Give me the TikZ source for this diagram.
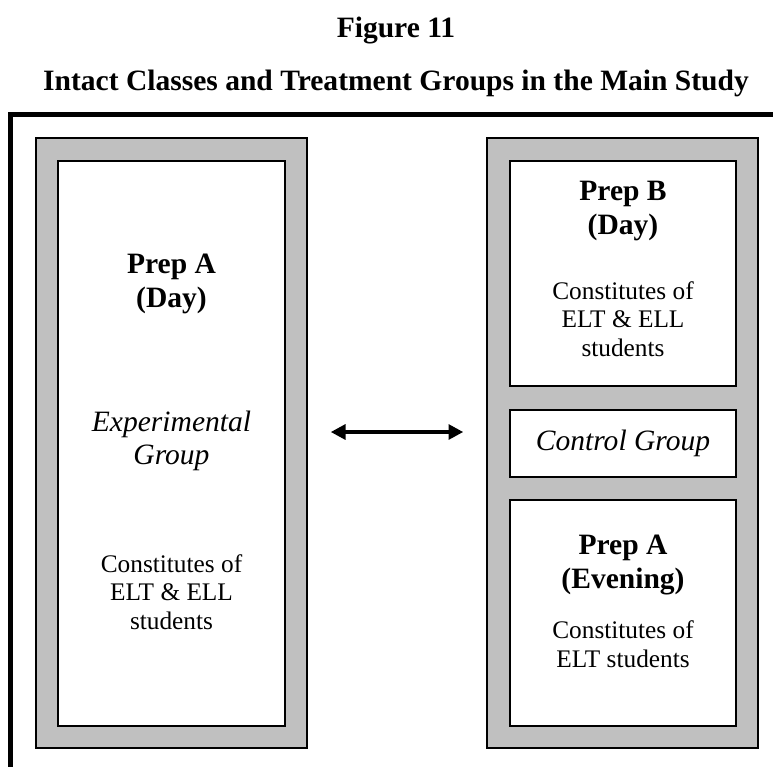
\documentclass[tikz,border=0pt]{standalone}
\usepackage{fontspec}
\setmainfont{Liberation Serif}
\usetikzlibrary{arrows.meta,fit}
\definecolor{boxgray}{RGB}{192,192,192}

\begin{document}
\begin{tikzpicture}[
    x=0.474pt, y=-0.474pt,
    frame/.style = {line width=2.4pt, line join=miter},
    shade box/.style = {draw=black, line width=0.7pt, fill=boxgray, inner sep=0pt},
    white box/.style = {draw=black, line width=0.7pt, fill=white, inner sep=0pt},
    head/.style = {font=\fontsize{14}{16.3}\selectfont\bfseries, align=center, inner sep=0pt},
    body/.style = {font=\fontsize{12}{13.6}\selectfont, align=center, inner sep=0pt},
    group/.style = {font=\fontsize{14}{15.8}\selectfont\itshape, align=center, inner sep=0pt},
    link/.style = {{Triangle[length=7pt,width=7pt]}-{Triangle[length=7pt,width=7pt]},
        line width=1.9pt, shorten <=10.9pt, shorten >=10.9pt}
  ]
  \useasboundingbox (0,0) rectangle (773,767);
  \node[head] (fig) at (396,31) {Figure 11};
  \node[head] (title) at (396,83) {Intact Classes and Treatment Groups in the Main Study};
  \draw[frame] (773,114.5) -| (10.5,767);

  % experimental side
  \node[shade box, fit={(36,138) (307,748)}] (leftgrp) {};
  \node[white box, fit={(58,161) (285,726)}] (expbox) {};
  \node[head] (prepaday) at (171.5,284) {Prep A\\(Day)};
  \node[group] (exp) at (171.5,441) {Experimental\\Group};
  \node[body] (expmix) at (171.5,592) {Constitutes of\\ELT \& ELL\\students};

  % control side
  \node[shade box, fit={(487,138) (758,748)}] (rightgrp) {};
  \node[white box, fit={(510,161) (736,386)}] (prepb) {};
  \node[white box, fit={(510,410) (736,477)}] (ctrl) {};
  \node[white box, fit={(510,500) (736,726)}] (prepa) {};
  \node[head] (prepbday) at (623,211) {Prep B\\(Day)};
  \node[body] (prepbmix) at (623,319) {Constitutes of\\ELT \& ELL\\students};
  \node[group] (ctrltext) at (ctrl) {Control Group};
  \node[head] (prepaeve) at (623,565) {Prep A\\(Evening)};
  \node[body] (prepaelt) at (623,644) {Constitutes of\\ELT students};

  \coordinate (mid) at (0,432);
  \draw[link] (leftgrp.east |- mid) -- (rightgrp.west |- mid);
\end{tikzpicture}
\end{document}
